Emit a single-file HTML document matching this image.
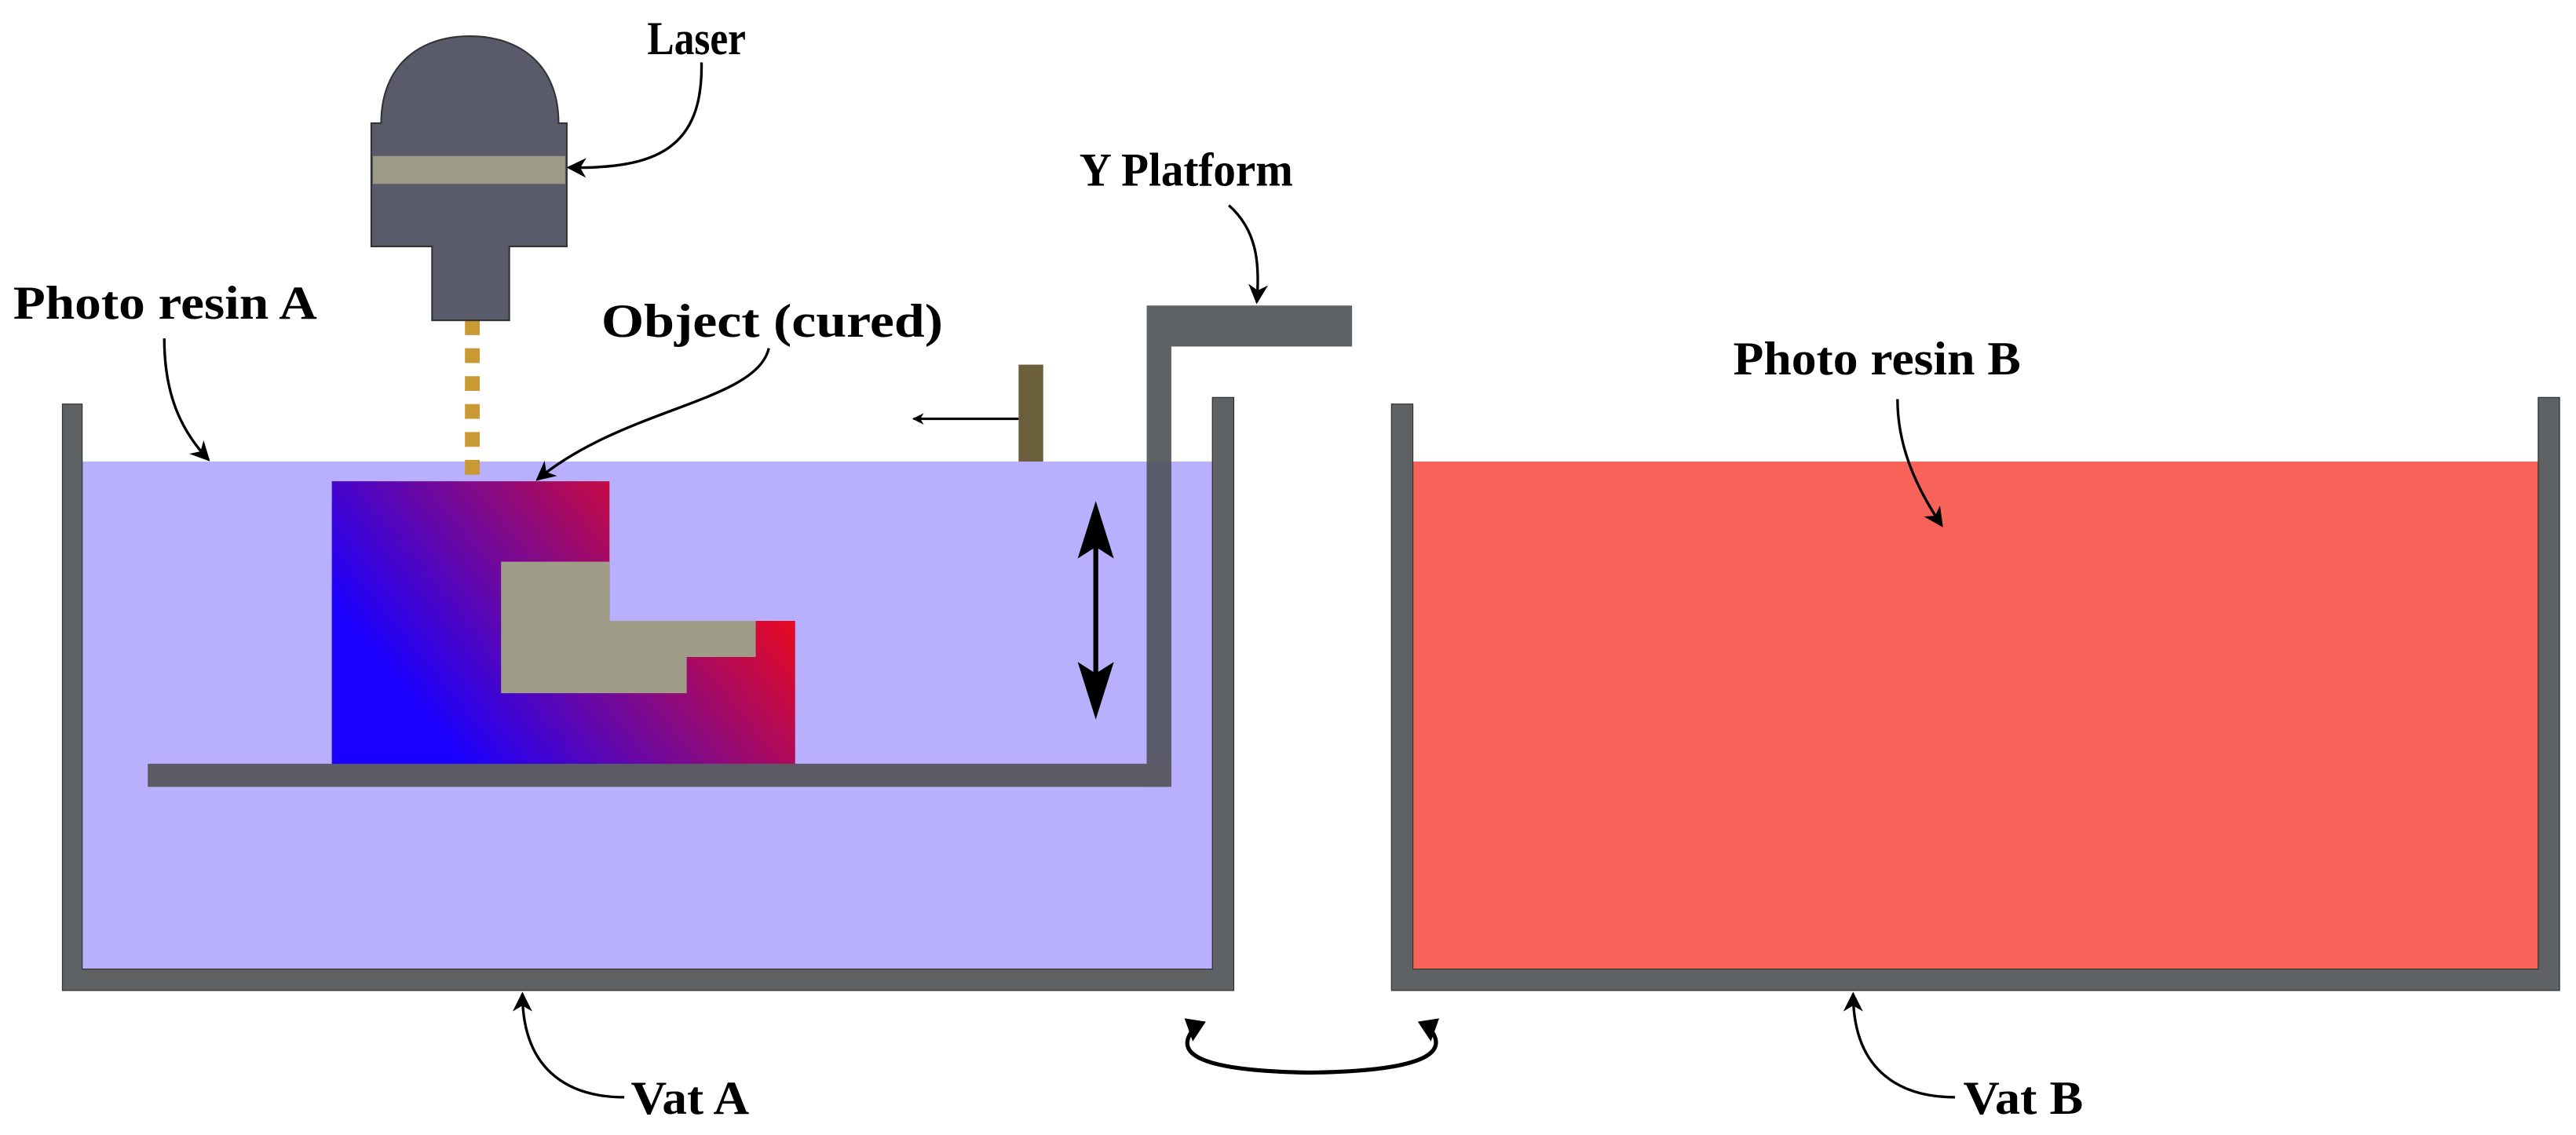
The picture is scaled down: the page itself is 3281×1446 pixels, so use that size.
<!DOCTYPE html>
<html><head><meta charset="utf-8"><style>html,body{margin:0;padding:0;background:#fff}svg{display:block}</style></head>
<body>
<svg width="3281" height="1446" viewBox="0 0 1568 691" preserveAspectRatio="none" xmlns="http://www.w3.org/2000/svg">
<defs>
<linearGradient id="g" x1="0.1" y1="0.75" x2="1" y2="0.3">
<stop offset="0.05" stop-color="#1a00ff"/>
<stop offset="0.5" stop-color="#800a8a"/>
<stop offset="1" stop-color="#ff0a0a"/>
</linearGradient>
<marker id="a" viewBox="0 0 10 10" refX="9" refY="5" markerWidth="7" markerHeight="7" orient="auto" markerUnits="userSpaceOnUse">
<path d="M0,0 L10,5 L0,10 L3,5 z" fill="#000"/></marker>
<marker id="b" viewBox="0 0 10 10" refX="9" refY="5" markerWidth="12" markerHeight="12" orient="auto" markerUnits="userSpaceOnUse">
<path d="M0,0 L10,5 L0,10 L3,5 z" fill="#000"/></marker>
</defs>
<rect x="50" y="281" width="688" height="309" fill="#b8b0fc"/>
<rect x="860" y="281" width="685" height="309" fill="#f76358"/>
<path d="M38,246 H50 V590 H738 V242 H751 V603 H38 Z" fill="#5f6264" stroke="#333" stroke-width="0.6"/>
<path d="M847,246 H860 V590 H1545 V242 H1558 V603 H847 Z" fill="#5f6264" stroke="#333" stroke-width="0.6"/>
<path d="M698,186 H823 V211 H713 V479 H90 V465 H698 Z" fill="#5f6264"/>
<rect x="698" y="281" width="15" height="198" fill="#5a5b6a"/>
<rect x="90" y="465" width="623" height="14" fill="#5a5b66"/>
<path d="M202,293 H371 V378 H484 V465 H202 Z" fill="url(#g)"/>
<path d="M305,342 H371 V378 H460 V400 H418 V422 H305 Z" fill="#9f9d87"/>
<line x1="287.5" y1="195" x2="287.5" y2="293" stroke="#c99a33" stroke-width="9" stroke-dasharray="9,8"/>
<path d="M232,75 C232,40 255,22 286,22 C317,22 340,40 340,75 H345 V150 H310 V195 H263 V150 H226 V75 Z" fill="#5a5b6a" stroke="#333" stroke-width="1"/>
<rect x="227" y="95" width="117" height="17" fill="#9d9a88"/>
<rect x="620" y="222" width="15" height="59" fill="#6b5e3a"/>
<line x1="620" y1="255" x2="556" y2="255" stroke="#000" stroke-width="1.5" marker-end="url(#a)"/>
<line x1="667" y1="315" x2="667" y2="428" stroke="#000" stroke-width="3"/>
<path d="M667,305 L678,340 L667,333 L656,340 Z M667,438 L678,403 L667,410 L656,403 Z" fill="#000"/>
<path d="M727,626 C715,640 725,652 798,653 C870,652 882,640 870,626" fill="none" stroke="#000" stroke-width="2.5"/>
<path d="M721,620 L734,622 L726,634 Z M876,620 L863,622 L871,634 Z" fill="#000"/>
<g fill="none" stroke="#000" stroke-width="1.6">
<path d="M427,38 C428,90 400,103 346,102" marker-end="url(#b)"/>
<path d="M748,125 C765,140 767,160 765,184" marker-end="url(#b)"/>
<path d="M100,206 C100,240 110,262 127,280" marker-end="url(#b)"/>
<path d="M468,212 C460,245 380,248 327,292" marker-end="url(#b)"/>
<path d="M1155,243 C1155,270 1165,295 1182,320" marker-end="url(#b)"/>
<path d="M380,668 C350,668 318,655 318,605" marker-end="url(#b)"/>
<path d="M1190,668 C1160,668 1128,655 1128,605" marker-end="url(#b)"/>
</g>
<g font-family="'Liberation Serif', serif" font-weight="bold" font-size="29" fill="#000">
<text x="394" y="33" textLength="60" lengthAdjust="spacingAndGlyphs">Laser</text>
<text x="657" y="113" textLength="130" lengthAdjust="spacingAndGlyphs">Y Platform</text>
<text x="8" y="194" textLength="185" lengthAdjust="spacingAndGlyphs">Photo resin A</text>
<text x="366" y="205" textLength="208" lengthAdjust="spacingAndGlyphs">Object (cured)</text>
<text x="1055" y="228" textLength="175" lengthAdjust="spacingAndGlyphs">Photo resin B</text>
<text x="384" y="678" textLength="72" lengthAdjust="spacingAndGlyphs">Vat A</text>
<text x="1195" y="678" textLength="73" lengthAdjust="spacingAndGlyphs">Vat B</text>
</g>
</svg>
</body></html>
